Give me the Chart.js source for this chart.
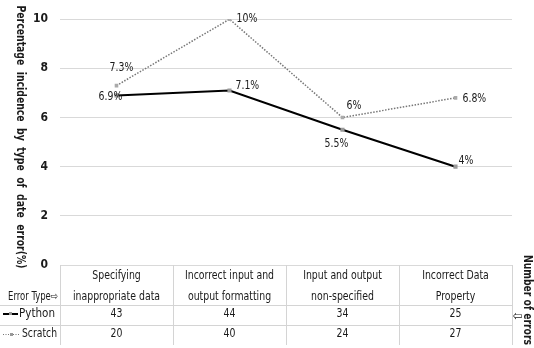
<!DOCTYPE html>
<html><head><meta charset="utf-8">
<script src="https://cdn.jsdelivr.net/npm/chart.js@4"></script>
<style>html,body{margin:0;padding:0;background:#fff}#wrap{width:534px;height:348px}</style>
</head><body><div id="wrap"><canvas id="c" width="534" height="348"></canvas></div>
<script>
const categories = [["Specifying","inappropriate data"],["Incorrect input and","output formatting"],["Input and output","non-specified"],["Incorrect Data","Property"]];
const pythonPct = [6.9, 7.1, 5.5, 4];
const scratchPct = [7.3, 10, 6, 6.8];
const pythonCount = [43, 44, 34, 25];
const scratchCount = [20, 40, 24, 27];
const yTicks = [0, 2, 4, 6, 8, 10];
const pythonLabelOff = [[-6,1,'center'],[6,-5,'left'],[-6,14,'center'],[3,-6,'left']];
const scratchLabelOff = [[5,-18,'center'],[7,-1,'left'],[4,-12,'left'],[7,1,'left']];

const FONT = '"DejaVu Sans Condensed", "Liberation Sans", sans-serif';

const overlay = {
  id: 'overlay',
  afterDraw(chart) {
    const ctx = chart.ctx, x = chart.scales.x, y = chart.scales.y, a = chart.chartArea;
    const fit = (t, px, py, k) => ctx.fillText(t, px, py, ctx.measureText(t).width * k);
    ctx.save();
    // data labels
    ctx.fillStyle = '#1a1a1a';
    ctx.font = '13px ' + FONT;
    ctx.textBaseline = 'middle';
    const drawLabels = (vals, offs) => vals.forEach((v, i) => {
      const px = x.getPixelForValue(i), py = y.getPixelForValue(v);
      ctx.textAlign = offs[i][2];
      fit(v + '%', px + offs[i][0], py + offs[i][1], 0.8);
    });
    drawLabels(pythonPct, pythonLabelOff);
    drawLabels(scratchPct, scratchLabelOff);

    // table
    const top = a.bottom, r1 = top + 40, r2 = r1 + 20, r3 = r2 + 20;
    const bounds = [a.left];
    for (let i = 0; i < categories.length; i++) bounds.push(a.left + (a.right - a.left) * (i + 1) / categories.length);
    ctx.strokeStyle = '#d4d4d4'; ctx.lineWidth = 1;
    ctx.beginPath();
    bounds.forEach(b => { ctx.moveTo(Math.round(b) + 0.5, top); ctx.lineTo(Math.round(b) + 0.5, r3); });
    ctx.moveTo(0, r1 + 0.5); ctx.lineTo(a.right, r1 + 0.5);
    ctx.moveTo(0, r2 + 0.5); ctx.lineTo(a.right, r2 + 0.5);
    ctx.stroke();
    ctx.font = '13px ' + FONT;
    ctx.textAlign = 'center';
    categories.forEach((c, i) => {
      const cx = x.getPixelForValue(i);
      ctx.fillStyle = '#1a1a1a';
      fit(c[0], cx, top + 11, 0.8);
      fit(c[1], cx, top + 32, 0.8);
      [[pythonCount[i], r1 + 9], [scratchCount[i], r2 + 9]].forEach(([v, yy]) => {
        ctx.fillStyle = '#fff';
        ctx.fillRect(cx - 12, yy - 8, 24, 15);
        ctx.fillStyle = '#1a1a1a';
        fit(String(v), cx, yy, 0.8);
      });
    });
    // left column
    ctx.font = '12px ' + FONT;
    ctx.textAlign = 'left';
    ctx.fillText('Error Type\u21E8', 8, top + 32, 50);
    ctx.font = '13px ' + FONT;
    ctx.strokeStyle = '#000'; ctx.lineWidth = 2;
    ctx.beginPath(); ctx.moveTo(3, r1 + 9); ctx.lineTo(18, r1 + 9); ctx.stroke();
    ctx.fillStyle = '#999'; ctx.fillRect(9, r1 + 7, 3, 3);
    ctx.fillStyle = '#1a1a1a'; ctx.fillText('Python', 19, r1 + 9, 36);
    ctx.strokeStyle = '#777'; ctx.lineWidth = 1; ctx.setLineDash([1, 1.5]);
    ctx.beginPath(); ctx.moveTo(3, r2 + 9.5); ctx.lineTo(19, r2 + 9.5); ctx.stroke();
    ctx.setLineDash([]);
    ctx.fillStyle = '#999'; ctx.fillRect(10, r2 + 8, 3, 3);
    ctx.fillStyle = '#1a1a1a'; ctx.fillText('Scratch', 22, r2 + 9, 35);
    // right arrow + title
    ctx.textAlign = 'center';
    ctx.font = '13px ' + FONT;
    ctx.fillText('\u21E6', 518, r1 + 12);
    ctx.save();
    ctx.translate(527, 300);
    ctx.rotate(Math.PI / 2);
    ctx.font = 'bold 12px ' + FONT;
    ctx.fillText('Number of errors', 0, 0, 90);
    ctx.restore();
    // y title
    ctx.save();
    ctx.translate(20, 137);
    ctx.rotate(Math.PI / 2);
    ctx.font = 'bold 13px ' + FONT;
    ctx.fillStyle = '#1a1a1a';
    ctx.textAlign = 'center';
    ctx.fillText('Percentage  incidence  by  type  of  date  error(%)', 0, 0, 263);
    ctx.restore();
    ctx.restore();
  }
};

new Chart(document.getElementById('c'), {
  type: 'line',
  data: {
    labels: categories.map(c => c.join(' ')),
    datasets: [
      { label: 'Python', data: pythonPct, borderColor: '#000', borderWidth: 2, pointStyle: 'rect', pointRadius: 1.5, pointBackgroundColor: '#999', pointBorderColor: '#999', tension: 0 },
      { label: 'Scratch', data: scratchPct, borderColor: '#777', borderWidth: 1.5, borderDash: [1.5, 1.5], pointStyle: 'rect', pointRadius: 1.5, pointBackgroundColor: '#aaa', pointBorderColor: '#aaa', tension: 0 }
    ]
  },
  options: {
    responsive: false,
    animation: false,
    layout: { padding: { top: 18, right: 22, bottom: 83, left: 0 } },
    plugins: { legend: { display: false }, tooltip: { enabled: false } },
    scales: {
      x: { display: false, offset: true },
      y: {
        min: 0, max: 10,
        afterBuildTicks: s => { s.ticks = yTicks.map(v => ({ value: v })); },
        afterFit: s => { s.width = 60; },
        border: { display: false },
        grid: { color: '#d9d9d9', drawTicks: false },
        ticks: { padding: 12, color: '#1a1a1a', font: { family: FONT, size: 12, weight: 'bold' } }
      }
    }
  },
  plugins: [overlay]
});
</script></body></html>
